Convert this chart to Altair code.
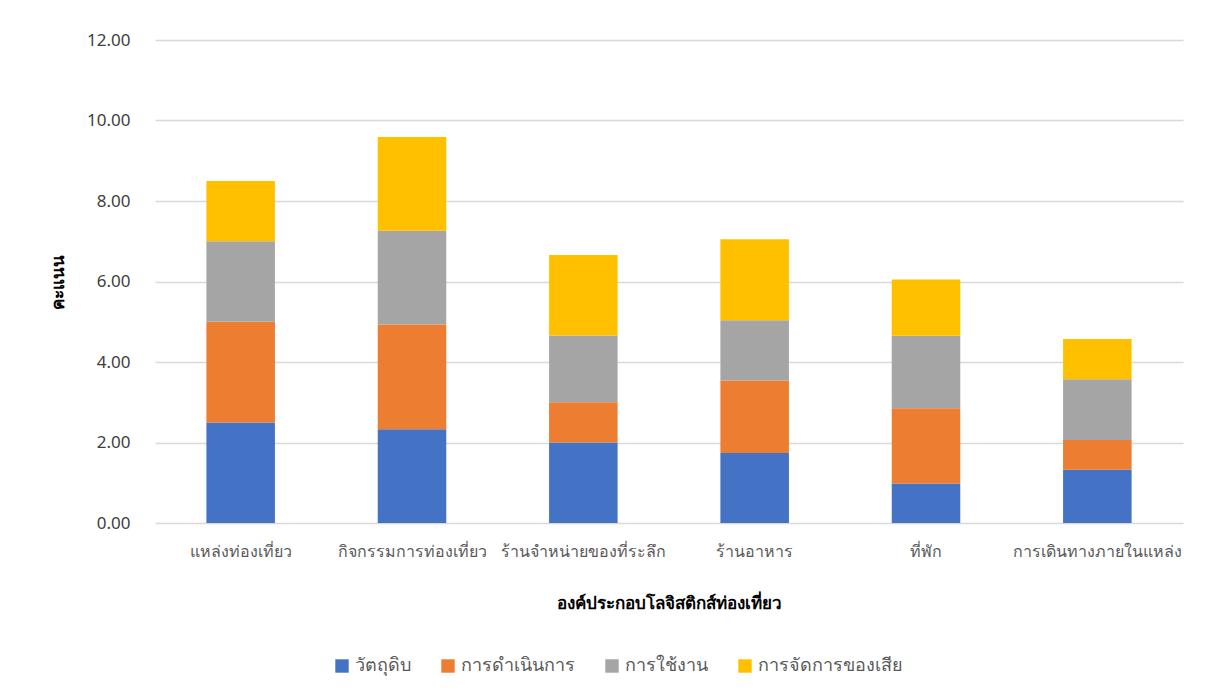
import altair as alt
import pandas as pd

categories = ["แหล่งท่องเที่ยว", "กิจกรรมการท่องเที่ยว", "ร้านจำหน่ายของที่ระลึก",
              "ร้านอาหาร", "ที่พัก", "การเดินทางภายในแหล่ง"]
series = ["วัตถุดิบ", "การดำเนินการ", "การใช้งาน", "การจัดการของเสีย"]
colors = ["#4472C4", "#ED7D31", "#A5A5A5", "#FFC000"]

raw_material = [2.50, 2.33, 2.00, 1.74, 0.98, 1.32]
operation = [2.50, 2.60, 1.00, 1.80, 1.87, 0.74]
usage = [2.00, 2.33, 1.66, 1.50, 1.80, 1.51]
waste = [1.50, 2.33, 2.00, 2.01, 1.40, 1.00]

values = [raw_material, operation, usage, waste]
rows = []
for si, (s, vals) in enumerate(zip(series, values)):
    for c, v in zip(categories, vals):
        rows.append({"category": c, "series": s, "value": v, "order": si})
df = pd.DataFrame(rows)

FONT = "Noto Sans"
TXT = "#595959"

chart = alt.Chart(df).mark_bar().encode(
    x=alt.X("category:N", sort=categories,
            scale=alt.Scale(paddingInner=0.6, paddingOuter=0.3),
            axis=alt.Axis(title="องค์ประกอบโลจิสติกส์ท่องเที่ยว", labelAngle=0,
                          ticks=False, domain=False, labelPadding=20,
                          labelFontSize=16, labelColor=TXT, labelFont=FONT,
                          titleFontSize=17, titleFont=FONT, titleColor="#000000",
                          titleFontWeight="bold", titlePadding=36)),
    y=alt.Y("value:Q", stack="zero",
            scale=alt.Scale(domain=[0, 12]),
            axis=alt.Axis(title="คะแนน", values=[0, 2, 4, 6, 8, 10, 12], format=".2f",
                          ticks=False, domain=False, labelPadding=25,
                          labelFontSize=17, labelColor="#404040", labelFont=FONT,
                          gridColor="#D9D9D9", gridWidth=1.5,
                          titleFontSize=17, titleFont=FONT, titleColor="#000000",
                          titleFontWeight="bold", titleX=-88)),
    color=alt.Color("series:N", sort=series,
                    scale=alt.Scale(domain=series, range=colors),
                    legend=alt.Legend(title=None, orient="none", direction="horizontal",
                                      legendX=178, legendY=617,
                                      symbolType="square", symbolSize=180,
                                      symbolStrokeWidth=0,
                                      labelFontSize=18, labelColor=TXT, labelFont=FONT,
                                      columnPadding=28, symbolOffset=0)),
    order=alt.Order("order:Q", sort="ascending"),
).properties(
    width=1028, height=483,
    autosize=alt.AutoSizeParams(type="none"),
    padding={"left": 147, "top": 32, "right": 15, "bottom": 160},
).configure(background="white").configure_view(stroke=None)

chart.save("out.html", embed_options={"renderer": "svg", "actions": False})
